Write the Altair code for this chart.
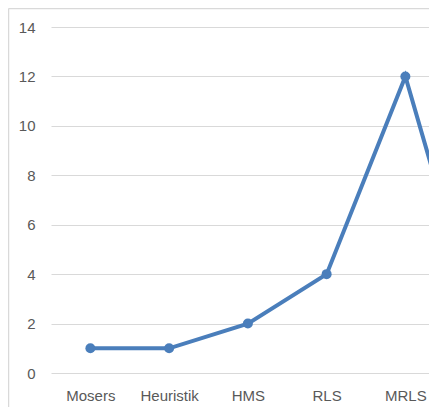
import altair as alt
import pandas as pd

categories = ["Mosers", "Heuristik", "HMS", "RLS", "MRLS", ""]
values = [1, 1, 2, 4, 12, 1]
y_ticks = [0, 2, 4, 6, 8, 10, 12, 14]

df = pd.DataFrame({"idx": list(range(len(categories))), "cat": categories, "val": values})

W, H = 378, 346
label_expr = "[" + ",".join(f"'{c}'" for c in categories) + "][datum.value]"

x = alt.X("idx:Q",
          scale=alt.Scale(domain=[-0.5, -0.5 + W / 78.75], nice=False, zero=False),
          axis=alt.Axis(values=[0, 1, 2, 3, 4], labelExpr=label_expr, title=None,
                        ticks=False, domain=False, grid=False,
                        labelFont="Liberation Sans", labelFontSize=15,
                        labelColor="#595959", labelPadding=15))
y = alt.Y("val:Q",
          scale=alt.Scale(domain=[0, 14], nice=False),
          axis=alt.Axis(values=y_ticks, title=None, ticks=False, domain=False,
                        grid=True, gridColor="#d9d9d9", gridWidth=1.2,
                        labelFont="Liberation Sans", labelFontSize=15,
                        labelColor="#595959", labelPadding=16))

base = alt.Chart(df)
line = base.mark_line(color="#4A7EBB", strokeWidth=4, clip=True).encode(x=x, y=y)
pts = base.mark_circle(color="#4A7EBB", size=100, opacity=1, clip=True).encode(x=x, y=y)

border_left = alt.Chart(pd.DataFrame({"a": [0]})).mark_rule(color="#d9d9d9", strokeWidth=1.5).encode(
    x=alt.value(-42.5), y=alt.value(-18.5), y2=alt.value(H + 34))
border_top = alt.Chart(pd.DataFrame({"a": [0]})).mark_rule(color="#d9d9d9", strokeWidth=1.5).encode(
    x=alt.value(-42.5), x2=alt.value(W), y=alt.value(-18.5))

chart = (line + pts + border_left + border_top).properties(
    width=W, height=H,
    autosize=alt.AutoSizeParams(type="none"),
    padding={"left": 43, "top": 19, "right": 0, "bottom": 34},
    background="white",
).configure_view(stroke=None)

chart.save("out.html", embed_options={"renderer": "svg", "actions": False})
